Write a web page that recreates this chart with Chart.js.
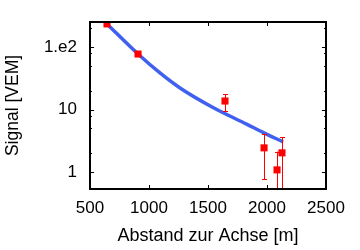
<!DOCTYPE html>
<html>
<head>
<meta charset="utf-8">
<script src="https://cdn.jsdelivr.net/npm/chart.js@4.4.1/dist/chart.umd.min.js"></script>
<style>
  html, body { margin: 0; padding: 0; background: #fff; }
  #wrap { width: 360px; height: 250px; }
</style>
</head>
<body>
<div id="wrap"><canvas id="signalChart"></canvas></div>
<script>
// Messpunkte (Abstand in m, Signal in VEM) mit Fehlerbalken
const pointX = [644, 907, 1644, 1975, 2085, 2127];
const pointY = [233, 77, 13.7, 2.45, 1.09, 2.04];
const errLow = [null, null, 9.4, 0.77, 0.3, 0.3];
const errHigh = [null, null, 17.5, 4.06, 2.14, 3.63];

// angepasste Kurve (LDF)
const curveX = [644, 907, 1093, 1263, 1542, 1831, 1966, 2136];
const curveY = [233, 77, 38.4, 22.1, 10.8, 5.82, 4.33, 3.05];

// Achsen
const xTickValues = [500, 1000, 1500, 2000, 2500];
const yMajorTicks = [1, 10, 100];
const yMinorTicks = [2, 5, 8, 20, 50, 80, 200];
const yTickLabels = { 1: '1', 10: '10', 100: '1.e2' };

const fontFamily = '"Liberation Sans", Arial, sans-serif';

// Rahmen und Ticks nach innen (wie gnuplot)
const frameTicks = {
    id: 'frameTicks',
    afterDraw(chart) {
        const { ctx, chartArea: a, scales: { x, y } } = chart;
        ctx.save();
        ctx.strokeStyle = '#000';
        ctx.lineWidth = 1;
        ctx.beginPath();
        xTickValues.forEach(v => {
            const px = Math.round(x.getPixelForValue(v)) + 0.5;
            ctx.moveTo(px, a.bottom); ctx.lineTo(px, a.bottom - 4);
            ctx.moveTo(px, a.top); ctx.lineTo(px, a.top + 4);
        });
        yMajorTicks.forEach(v => {
            const py = Math.round(y.getPixelForValue(v)) + 0.5;
            ctx.moveTo(a.left, py); ctx.lineTo(a.left + 4, py);
            ctx.moveTo(a.right, py); ctx.lineTo(a.right - 4, py);
        });
        yMinorTicks.forEach(v => {
            const py = Math.round(y.getPixelForValue(v)) + 0.5;
            ctx.moveTo(a.left, py); ctx.lineTo(a.left + 2, py);
            ctx.moveTo(a.right, py); ctx.lineTo(a.right - 2, py);
        });
        ctx.stroke();
        ctx.lineWidth = 2;
        ctx.strokeRect(a.left, a.top, a.right - a.left, a.bottom - a.top);
        ctx.restore();
    }
};

// Fehlerbalken
const errorBars = {
    id: 'errorBars',
    afterDatasetsDraw(chart) {
        const { ctx, chartArea: a, scales: { x, y } } = chart;
        ctx.save();
        ctx.beginPath();
        ctx.rect(a.left, a.top, a.right - a.left, a.bottom - a.top);
        ctx.clip();
        ctx.strokeStyle = '#ff0000';
        ctx.lineWidth = 1;
        ctx.beginPath();
        pointX.forEach((v, i) => {
            if (errLow[i] == null) return;
            const px = Math.round(x.getPixelForValue(v)) + 0.5;
            const yl = y.getPixelForValue(errLow[i]);
            const yh = y.getPixelForValue(errHigh[i]);
            ctx.moveTo(px, yl); ctx.lineTo(px, yh);
            ctx.moveTo(px - 2.5, Math.round(yh) + 0.5); ctx.lineTo(px + 2.5, Math.round(yh) + 0.5);
            ctx.moveTo(px - 2.5, Math.round(yl) + 0.5); ctx.lineTo(px + 2.5, Math.round(yl) + 0.5);
        });
        ctx.stroke();
        ctx.restore();
    }
};

document.addEventListener('DOMContentLoaded', function () {
    try {
        const ctx = document.getElementById('signalChart').getContext('2d');
        new Chart(ctx, {
            type: 'scatter',
            data: {
                datasets: [
                    {
                        label: 'Daten',
                        data: pointX.map((v, i) => ({ x: v, y: pointY[i] })),
                        pointStyle: 'rect',
                        pointRadius: 5,
                        pointBorderWidth: 0,
                        backgroundColor: '#ff0000',
                        borderColor: '#ff0000',
                        order: 0
                    },
                    {
                        label: 'Fit',
                        data: curveX.map((v, i) => ({ x: v, y: curveY[i] })),
                        showLine: true,
                        cubicInterpolationMode: 'monotone',
                        pointRadius: 0,
                        borderColor: '#4060f0',
                        borderWidth: 3.5,
                        order: 1
                    }
                ]
            },
            options: {
                responsive: true,
                maintainAspectRatio: false,
                animation: false,
                layout: { padding: { top: 22, right: 34, left: 0, bottom: 0 } },
                plugins: {
                    legend: { display: false },
                    tooltip: { enabled: false }
                },
                scales: {
                    x: {
                        type: 'linear',
                        min: 500,
                        max: 2500,
                        afterBuildTicks: s => { s.ticks = xTickValues.map(v => ({ value: v })); },
                        afterFit: s => { s.height = 61; s.paddingLeft = 0; s.paddingRight = 0; },
                        grid: { display: false, drawTicks: false },
                        border: { display: false },
                        ticks: {
                            autoSkip: false,
                            maxRotation: 0,
                            padding: 9,
                            color: '#000',
                            font: { family: fontFamily, size: 17 },
                            callback: v => String(v)
                        },
                        title: {
                            display: true,
                            text: 'Abstand zur Achse [m]',
                            color: '#000',
                            padding: { top: 0, bottom: 3 },
                            font: { family: fontFamily, size: 18 }
                        }
                    },
                    y: {
                        type: 'logarithmic',
                        min: 0.54,
                        max: 250,
                        afterBuildTicks: s => { s.ticks = yMajorTicks.map(v => ({ value: v })); },
                        afterFit: s => { s.width = 90; s.paddingTop = 0; s.paddingBottom = 0; },
                        grid: { display: false, drawTicks: false },
                        border: { display: false },
                        ticks: {
                            autoSkip: false,
                            padding: 13,
                            color: '#000',
                            font: { family: fontFamily, size: 17 },
                            callback: v => yTickLabels[v] || ''
                        },
                        title: {
                            display: true,
                            text: 'Signal [VEM]',
                            color: '#000',
                            padding: { top: 3, bottom: 0 },
                            font: { family: fontFamily, size: 17.5 }
                        }
                    }
                }
            },
            plugins: [errorBars, frameTicks]
        });
    } catch (error) {
        console.error("Fehler beim Zeichnen des Diagramms:", error);
    }
});
</script>
</body>
</html>
